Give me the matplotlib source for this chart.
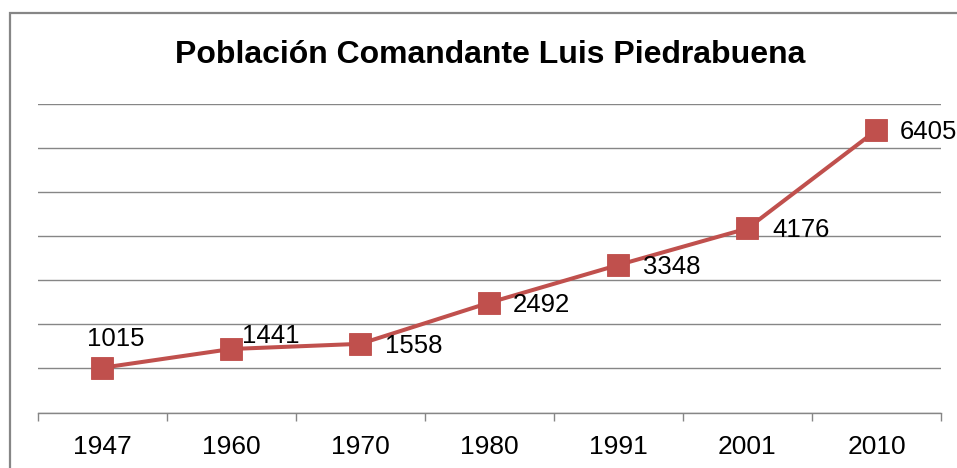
import matplotlib
matplotlib.use("Agg")
import matplotlib.pyplot as plt
from matplotlib.patches import Rectangle

plt.rcParams['font.family'] = ['Liberation Sans', 'DejaVu Sans']

# Census years and population counts
years = ["1947", "1960", "1970", "1980", "1991", "2001", "2010"]
population = [1015, 1441, 1558, 2492, 3348, 4176, 6405]

# Label placement per point: (dx, dy) in points, horizontal alignment
label_offsets = [(9.4, 15.8, 'center'), (7.9, 4.3, 'left'),
                 (18, -6.4, 'left'), (17, -6.4, 'left'), (18, -6.4, 'left'),
                 (18, -6.4, 'left'), (17, -6.4, 'left')]

W, H = 957, 468
fig = plt.figure(figsize=(W / 100, H / 100), dpi=100)
fig.patch.set_facecolor('white')

# Chart area border
fig.patches.append(Rectangle((9.5 / W, -0.1), 1.2, 1.1 - 13.5 / H,
                             transform=fig.transFigure, fill=False,
                             edgecolor='#868686', linewidth=1.6, zorder=0))

left, right = 37.7 / W, 941 / W
bottom, top = 1 - 412.5 / H, 1 - 104 / H
ax = fig.add_axes([left, bottom, right - left, top - bottom])
ax.set_facecolor('none')

x = list(range(len(years)))
ax.set_xlim(-0.5, len(years) - 0.5)
ax.set_ylim(0, 7000)

# Horizontal gridlines every 1000
ax.set_yticks(range(0, 7001, 1000))
ax.yaxis.grid(True, color='#868686', linewidth=1.0)
ax.set_axisbelow(True)
ax.tick_params(axis='y', left=False, labelleft=False)

for s in ['top', 'right', 'left']:
    ax.spines[s].set_visible(False)
ax.spines['bottom'].set_color('#868686')
ax.spines['bottom'].set_linewidth(1.0)

# Category labels centered, tick marks between categories
ax.set_xticks(x)
ax.set_xticklabels(years, fontsize=19, color='black')
ax.tick_params(axis='x', which='major', length=0, pad=16)
ax.set_xticks([i - 0.5 for i in range(len(years) + 1)], minor=True)
ax.tick_params(axis='x', which='minor', length=6, width=1.0,
               color='#868686', direction='out')

ax.plot(x, population, color='#C0504D', linewidth=2.9, marker='s',
        markersize=15.5, markerfacecolor='#C0504D', markeredgecolor='#BE4B48',
        markeredgewidth=0.6, clip_on=False, zorder=3)

for xi, val, (dx, dy, ha) in zip(x, population, label_offsets):
    ax.annotate(str(val), (xi, val), xytext=(dx, dy),
                textcoords='offset points', ha=ha, va='baseline',
                fontsize=18.5, color='black', annotation_clip=False)

fig.text(490 / W, 1 - 63.3 / H, "Población Comandante Luis Piedrabuena",
         ha='center', va='baseline', fontsize=23, fontweight='bold',
         color='black')

fig.savefig("out.png", dpi=100)
